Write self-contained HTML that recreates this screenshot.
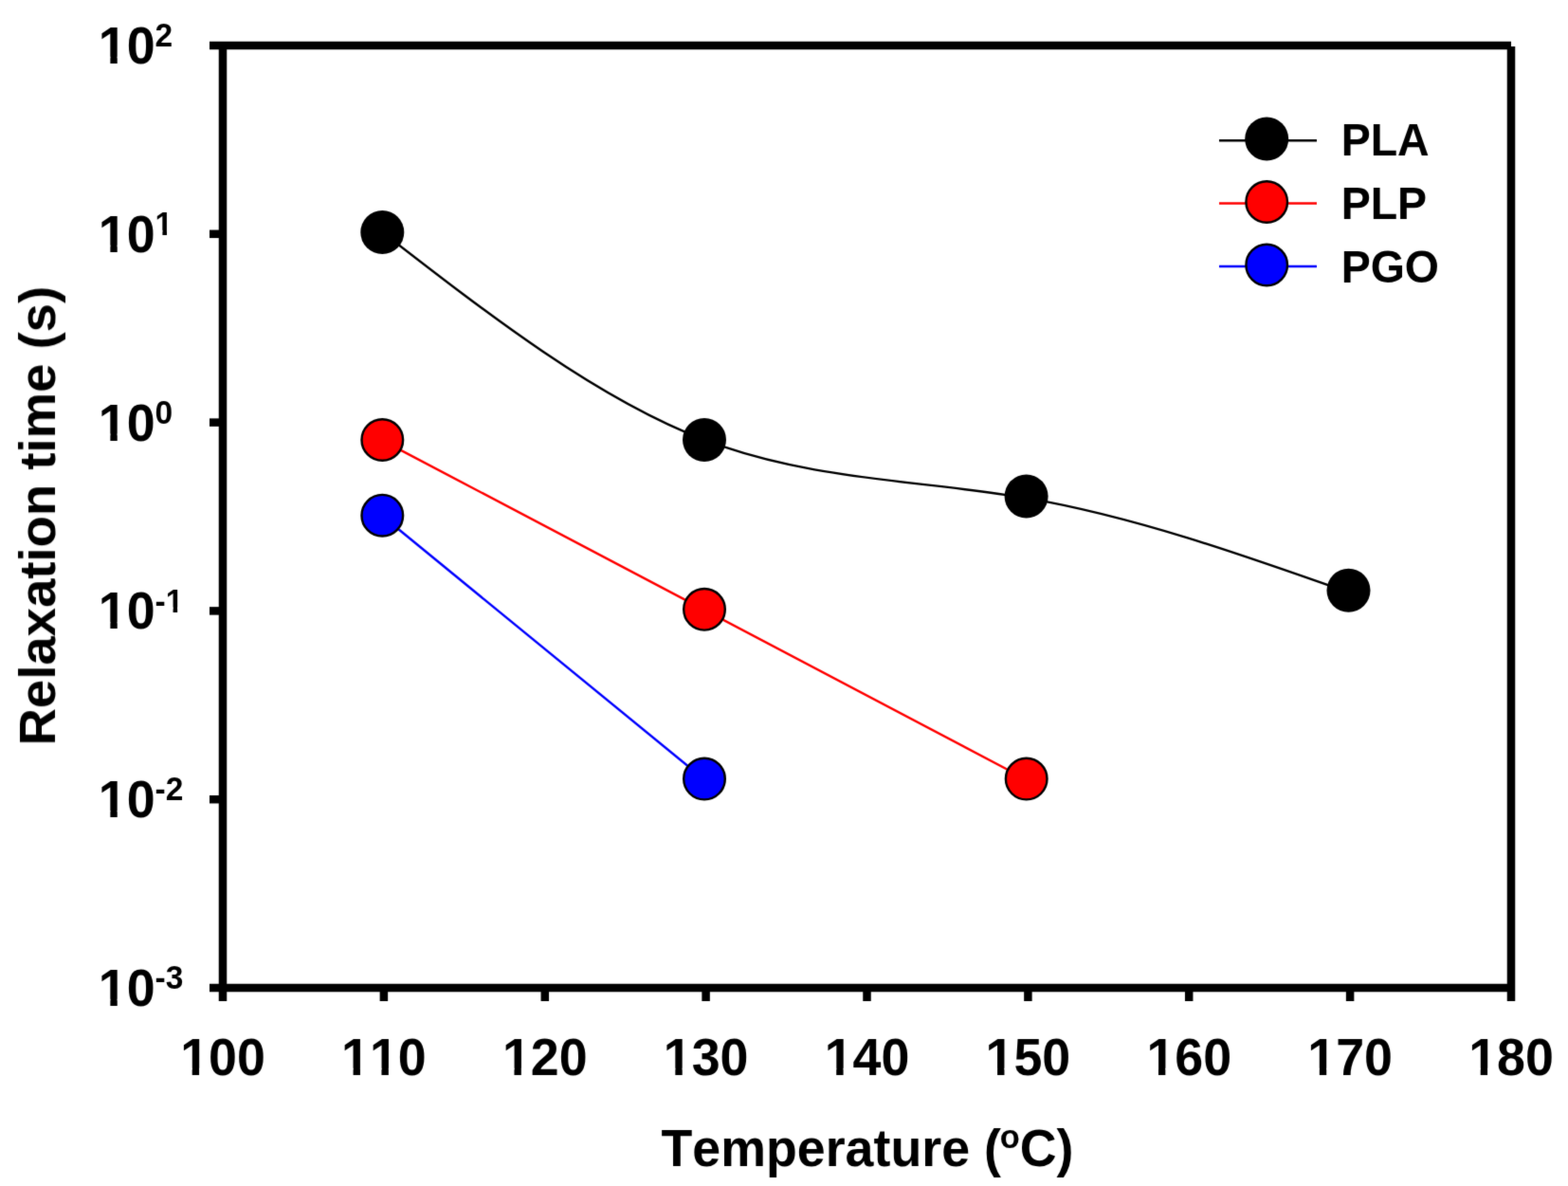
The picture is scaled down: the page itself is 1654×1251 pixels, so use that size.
<!DOCTYPE html>
<html><head><meta charset="utf-8"><title>Relaxation time vs Temperature</title>
<style>
html,body{margin:0;padding:0;background:#fff;}
svg{display:block;}
text{font-family:'Liberation Sans', Arial, Helvetica, sans-serif;font-weight:bold;fill:#000;font-kerning:none;font-feature-settings:"kern" 0;}
</style></head><body>
<svg width="1654" height="1251" viewBox="0 0 1654 1251">
<defs><mask id="nofoot" maskUnits="userSpaceOnUse" x="0" y="0" width="1654" height="1251"><rect width="1654" height="1251" fill="#fff"/><g fill="#000"><rect x="106.19" y="59.76" width="10.16" height="8.34"/><rect x="123.72" y="59.76" width="9.48" height="8.34"/><rect x="106.19" y="258.56" width="10.16" height="8.34"/><rect x="123.72" y="258.56" width="9.48" height="8.34"/><rect x="164.70" y="242.84" width="6.71" height="6.18"/><rect x="176.00" y="242.84" width="6.28" height="6.18"/><rect x="106.19" y="457.36" width="10.16" height="8.34"/><rect x="123.72" y="457.36" width="9.48" height="8.34"/><rect x="106.19" y="656.16" width="10.16" height="8.34"/><rect x="123.72" y="656.16" width="9.48" height="8.34"/><rect x="175.85" y="640.44" width="6.71" height="6.18"/><rect x="187.16" y="640.44" width="6.28" height="6.18"/><rect x="106.19" y="854.96" width="10.16" height="8.34"/><rect x="123.72" y="854.96" width="9.48" height="8.34"/><rect x="106.19" y="1053.76" width="10.16" height="8.34"/><rect x="123.72" y="1053.76" width="9.48" height="8.34"/><rect x="192.55" y="1126.76" width="10.16" height="8.34"/><rect x="210.08" y="1126.76" width="9.48" height="8.34"/><rect x="362.42" y="1126.76" width="10.16" height="8.34"/><rect x="379.96" y="1126.76" width="9.48" height="8.34"/><rect x="392.31" y="1126.76" width="10.16" height="8.34"/><rect x="409.85" y="1126.76" width="9.48" height="8.34"/><rect x="532.30" y="1126.76" width="10.16" height="8.34"/><rect x="549.83" y="1126.76" width="9.48" height="8.34"/><rect x="702.17" y="1126.76" width="10.16" height="8.34"/><rect x="719.71" y="1126.76" width="9.48" height="8.34"/><rect x="872.05" y="1126.76" width="10.16" height="8.34"/><rect x="889.58" y="1126.76" width="9.48" height="8.34"/><rect x="1041.92" y="1126.76" width="10.16" height="8.34"/><rect x="1059.46" y="1126.76" width="9.48" height="8.34"/><rect x="1211.80" y="1126.76" width="10.16" height="8.34"/><rect x="1229.33" y="1126.76" width="9.48" height="8.34"/><rect x="1381.67" y="1126.76" width="10.16" height="8.34"/><rect x="1399.21" y="1126.76" width="9.48" height="8.34"/><rect x="1551.55" y="1126.76" width="10.16" height="8.34"/><rect x="1569.08" y="1126.76" width="9.48" height="8.34"/></g></mask><filter id="sf" x="0" y="0" width="1654" height="1251" filterUnits="userSpaceOnUse" color-interpolation-filters="sRGB"><feConvolveMatrix order="5" kernelMatrix="0.00000 0.00003 0.00021 0.00003 0.00000 0.00003 0.01133 0.08373 0.01133 0.00003 0.00021 0.08373 0.61869 0.08373 0.00021 0.00003 0.01133 0.08373 0.01133 0.00003 0.00000 0.00003 0.00021 0.00003 0.00000" edgeMode="duplicate" preserveAlpha="true"/></filter></defs>
<g filter="url(#sf)">
<rect width="1654" height="1251" fill="#fff"/>
<line x1="221.0" y1="48.0" x2="1594.0" y2="48.0" stroke="#000" stroke-width="8.5"/>
<line x1="235.0" y1="44.0" x2="235.0" y2="1056.0" stroke="#000" stroke-width="8.5"/>
<line x1="1594.0" y1="49.0" x2="1594.0" y2="1056.0" stroke="#000" stroke-width="8.5"/>
<line x1="221.0" y1="1042.0" x2="1598.0" y2="1042.0" stroke="#000" stroke-width="8.5"/>
<line x1="221.0" y1="246.8" x2="235.0" y2="246.8" stroke="#000" stroke-width="8.5"/>
<line x1="221.0" y1="445.6" x2="235.0" y2="445.6" stroke="#000" stroke-width="8.5"/>
<line x1="221.0" y1="644.4" x2="235.0" y2="644.4" stroke="#000" stroke-width="8.5"/>
<line x1="221.0" y1="843.2" x2="235.0" y2="843.2" stroke="#000" stroke-width="8.5"/>
<line x1="404.9" y1="1042.0" x2="404.9" y2="1056.0" stroke="#000" stroke-width="8.5"/>
<line x1="574.8" y1="1042.0" x2="574.8" y2="1056.0" stroke="#000" stroke-width="8.5"/>
<line x1="744.6" y1="1042.0" x2="744.6" y2="1056.0" stroke="#000" stroke-width="8.5"/>
<line x1="914.5" y1="1042.0" x2="914.5" y2="1056.0" stroke="#000" stroke-width="8.5"/>
<line x1="1084.4" y1="1042.0" x2="1084.4" y2="1056.0" stroke="#000" stroke-width="8.5"/>
<line x1="1254.2" y1="1042.0" x2="1254.2" y2="1056.0" stroke="#000" stroke-width="8.5"/>
<line x1="1424.1" y1="1042.0" x2="1424.1" y2="1056.0" stroke="#000" stroke-width="8.5"/>
<path d="M403.50,245.08 C516.73,332.92 629.97,420.77 743.20,464.05 C856.40,507.32 969.60,506.05 1082.80,525.42 C1196.10,544.80 1309.40,584.85 1422.70,624.90" fill="none" stroke="#000" stroke-width="2.4"/>
<polyline points="403.3,464.6 743,643.4 1082.7,822.2" fill="none" stroke="#f00" stroke-width="2.4"/>
<polyline points="403.3,544.3 743,822.2" fill="none" stroke="#00f" stroke-width="2.4"/>
<circle cx="403.3" cy="245.1" r="23.0" fill="#000"/>
<circle cx="743" cy="463.9" r="23.0" fill="#000"/>
<circle cx="1082.6" cy="523.5" r="23.0" fill="#000"/>
<circle cx="1422.5" cy="622.8" r="23.0" fill="#000"/>
<circle cx="403.3" cy="464" r="21.80" fill="#f00" stroke="#000" stroke-width="2.4"/>
<circle cx="743" cy="642.8" r="21.80" fill="#f00" stroke="#000" stroke-width="2.4"/>
<circle cx="1082.7" cy="821.6" r="21.80" fill="#f00" stroke="#000" stroke-width="2.4"/>
<circle cx="403.3" cy="543.7" r="21.80" fill="#00f" stroke="#000" stroke-width="2.4"/>
<circle cx="743" cy="821.6" r="21.80" fill="#00f" stroke="#000" stroke-width="2.4"/>
<line x1="1286" y1="148.2" x2="1389" y2="148.2" stroke="#000" stroke-width="2.5"/>
<circle cx="1336.2" cy="146.6" r="23.0" fill="#000"/>
<line x1="1286" y1="214.6" x2="1389" y2="214.6" stroke="#f00" stroke-width="2.5"/>
<circle cx="1336.2" cy="213" r="21.80" fill="#f00" stroke="#000" stroke-width="2.4"/>
<line x1="1286" y1="281.1" x2="1389" y2="281.1" stroke="#00f" stroke-width="2.5"/>
<circle cx="1336.2" cy="279.5" r="21.80" fill="#00f" stroke="#000" stroke-width="2.4"/>
<text x="1414.7" y="163.9" font-size="46.5" transform="translate(0,163.9) scale(1,1.03) translate(0,-163.9)">PLA</text>
<text x="1414.7" y="230.6" font-size="46.5" transform="translate(0,230.6) scale(1,1.03) translate(0,-230.6)">PLP</text>
<text x="1414.7" y="297.7" font-size="46.5" transform="translate(0,297.7) scale(1,1.03) translate(0,-297.7)">PGO</text>
<g mask="url(#nofoot)"><text x="103.80" y="67.00" font-size="53.75" transform="translate(0,67.00) scale(1,1.046) translate(0,-67.00)">10<tspan font-size="33.5" dy="-17.1">2</tspan></text>
<text x="103.80" y="265.80" font-size="53.75" transform="translate(0,265.80) scale(1,1.046) translate(0,-265.80)">10<tspan font-size="33.5" dy="-17.1">1</tspan></text>
<text x="103.80" y="464.60" font-size="53.75" transform="translate(0,464.60) scale(1,1.046) translate(0,-464.60)">10<tspan font-size="33.5" dy="-17.1">0</tspan></text>
<text x="103.80" y="663.40" font-size="53.75" transform="translate(0,663.40) scale(1,1.046) translate(0,-663.40)">10<tspan font-size="33.5" dy="-17.1">-1</tspan></text>
<text x="103.80" y="862.20" font-size="53.75" transform="translate(0,862.20) scale(1,1.046) translate(0,-862.20)">10<tspan font-size="33.5" dy="-17.1">-2</tspan></text>
<text x="103.80" y="1061.00" font-size="53.75" transform="translate(0,1061.00) scale(1,1.046) translate(0,-1061.00)">10<tspan font-size="33.5" dy="-17.1">-3</tspan></text>
<text x="190.16" y="1134.0" font-size="53.75" transform="translate(0,1134.0) scale(1,1.046) translate(0,-1134.0)">100</text>
<text x="360.04" y="1134.0" font-size="53.75" transform="translate(0,1134.0) scale(1,1.046) translate(0,-1134.0)">110</text>
<text x="529.91" y="1134.0" font-size="53.75" transform="translate(0,1134.0) scale(1,1.046) translate(0,-1134.0)">120</text>
<text x="699.79" y="1134.0" font-size="53.75" transform="translate(0,1134.0) scale(1,1.046) translate(0,-1134.0)">130</text>
<text x="869.66" y="1134.0" font-size="53.75" transform="translate(0,1134.0) scale(1,1.046) translate(0,-1134.0)">140</text>
<text x="1039.54" y="1134.0" font-size="53.75" transform="translate(0,1134.0) scale(1,1.046) translate(0,-1134.0)">150</text>
<text x="1209.41" y="1134.0" font-size="53.75" transform="translate(0,1134.0) scale(1,1.046) translate(0,-1134.0)">160</text>
<text x="1379.29" y="1134.0" font-size="53.75" transform="translate(0,1134.0) scale(1,1.046) translate(0,-1134.0)">170</text>
<text x="1549.16" y="1134.0" font-size="53.75" transform="translate(0,1134.0) scale(1,1.046) translate(0,-1134.0)">180</text></g>
<text x="697.5" y="1230" font-size="53.75" transform="translate(0,1230) scale(1,1.035) translate(0,-1230)">Temperature (<tspan font-size="34.5" dx="-1.2" dy="-18.6">o</tspan><tspan dy="18.6">C)</tspan></text>
<text x="0" y="0" font-size="54.5" text-anchor="middle" transform="translate(58,544.2) rotate(-90)">Relaxation time (s)</text>
</g>
</svg>
</body></html>
